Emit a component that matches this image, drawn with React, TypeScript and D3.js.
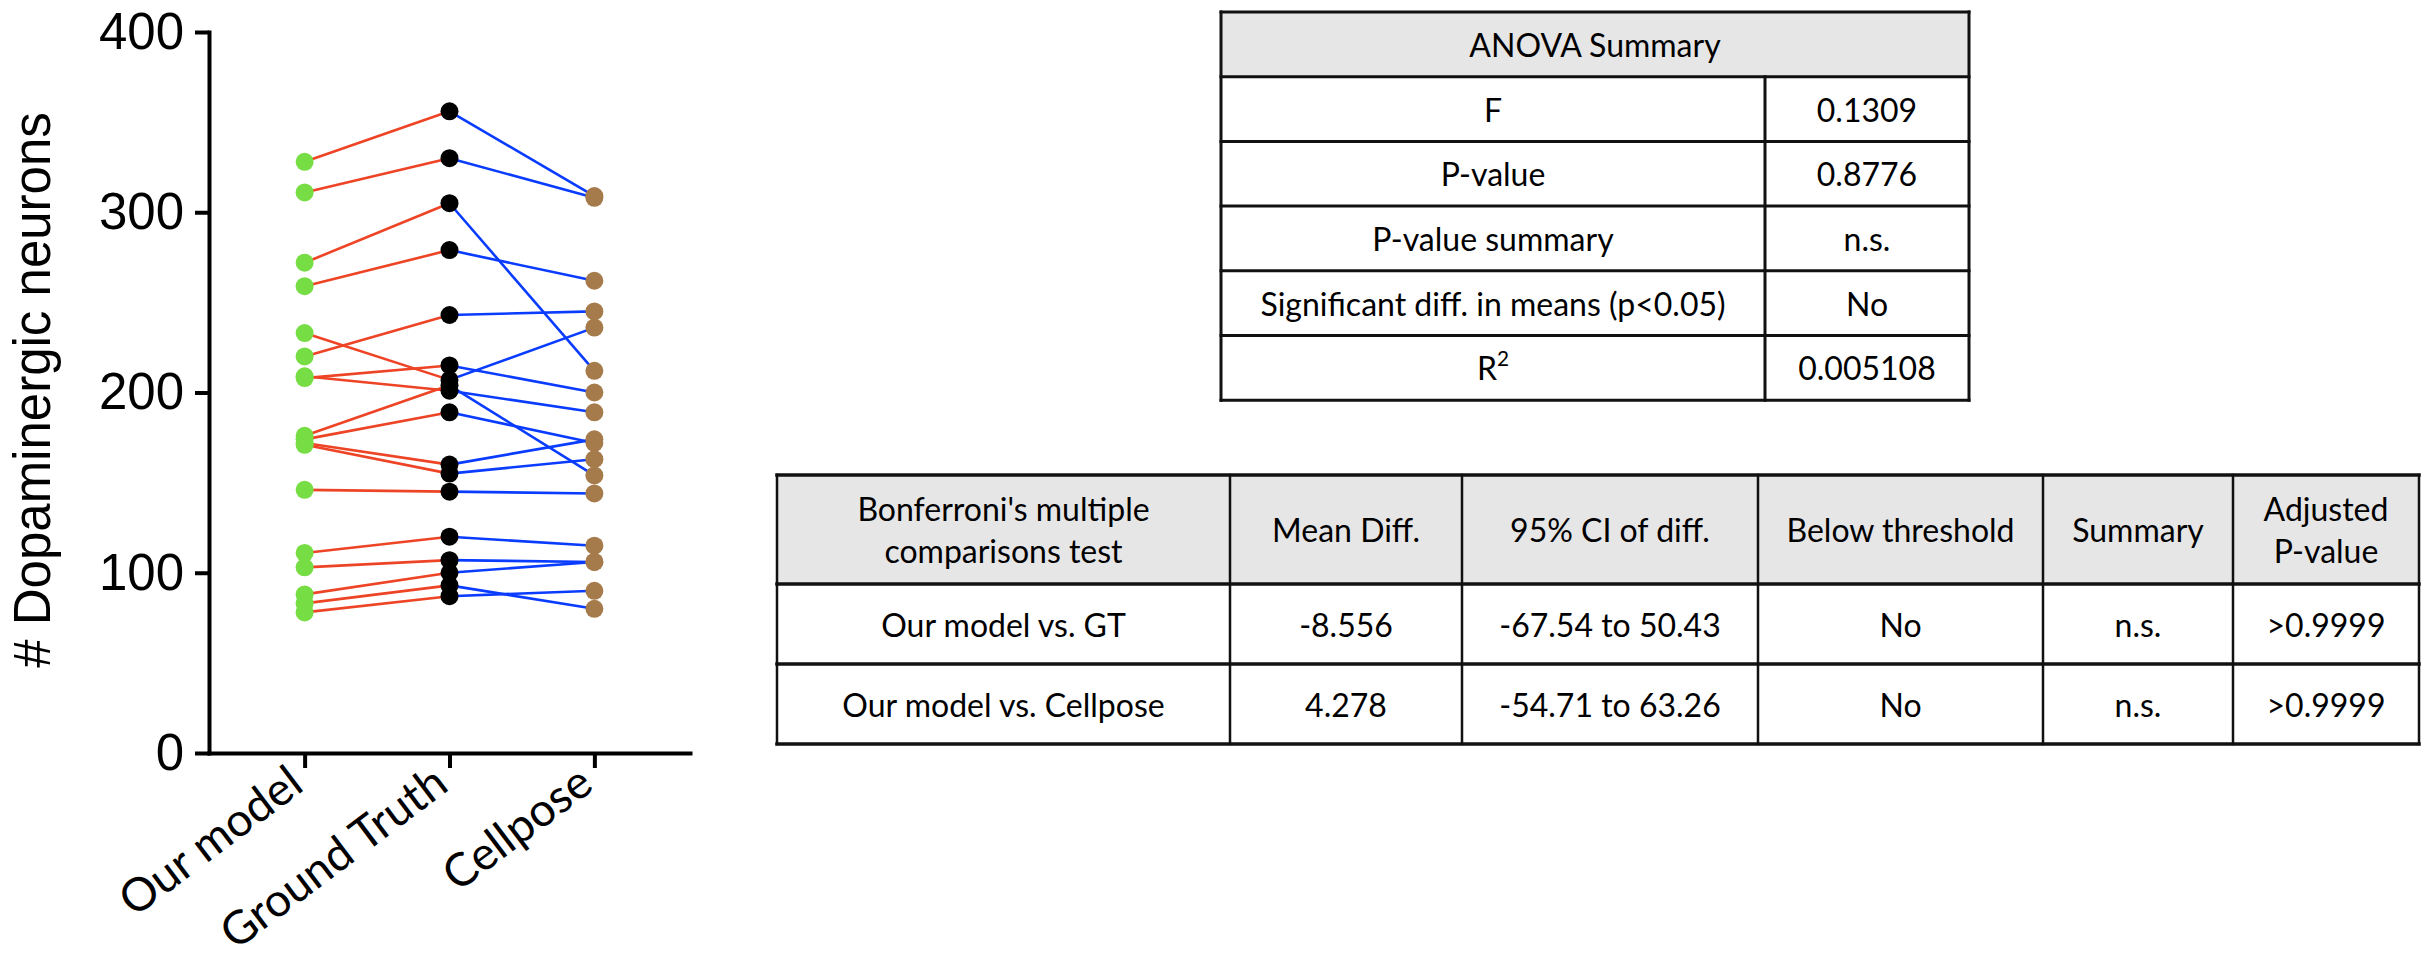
import { useEffect, useRef } from 'react';
import * as d3 from 'd3';

const W = 2422;
const H = 962;

// paired counts per image (18 images)
const CATEGORIES = ['Our model', 'Ground Truth', 'Cellpose'];
const OUR_MODEL = [328, 311, 272, 259, 220, 233, 208, 209, 176, 174, 172, 171, 146, 111, 103, 88, 83, 78];
const GROUND_TRUTH = [356, 330, 305, 279, 243, 207, 215, 201, 204, 189, 160, 155, 145, 120, 107, 100, 93, 87];
const CELLPOSE = [309, 308, 212, 262, 245, 236, 200, 189, 154, 172, 174, 163, 144, 115, 106, 106, 80, 90];
const Y_TICKS = [0, 100, 200, 300, 400];

const ANOVA_TITLE = 'ANOVA Summary';
const ANOVA_LABELS = ['F', 'P-value', 'P-value summary', 'Significant diff. in means (p<0.05)', 'R2'];
const ANOVA_VALUES = ['0.1309', '0.8776', 'n.s.', 'No', '0.005108'];

const BONF_HEADERS = [
  ["Bonferroni's multiple", 'comparisons test'],
  ['Mean Diff.'],
  ['95% CI of diff.'],
  ['Below threshold'],
  ['Summary'],
  ['Adjusted', 'P-value'],
];
const BONF_ROWS = [
  ['Our model vs. GT', '-8.556', '-67.54 to 50.43', 'No', 'n.s.', '>0.9999'],
  ['Our model vs. Cellpose', '4.278', '-54.71 to 63.26', 'No', 'n.s.', '>0.9999'],
];

const COLORS = { ours: '#77dd44', gt: '#000000', cellpose: '#a67b4b', red: '#ee4426', blue: '#0a3cff' };
const AXIS_FONT = '"Liberation Sans", Arial, sans-serif';
const TABLE_FONT = 'Lato, "Open Sans", sans-serif';
const HEADER_FILL = '#e7e6e6';

const PLOT = { left: 209, right: 690, top: 32, bottom: 753 };

// table geometry
const T1 = { x0: 1221, x1: 1969, xDiv: 1765, y0: 12, rowH: 64.7 };
const T2_XS = [777, 1230, 1462, 1758, 2043, 2233, 2419];
const T2_YS = [475, 584, 664, 744];

function AnovaTable() {
  const rows = ANOVA_LABELS.length + 1;
  const yEnd = T1.y0 + rows * T1.rowH;
  const fs = 32;
  return (
    <g fontFamily={TABLE_FONT} fontSize={fs} fill="#000">
      <rect x={T1.x0} y={T1.y0} width={T1.x1 - T1.x0} height={T1.rowH} fill={HEADER_FILL} />
      <text x={(T1.x0 + T1.x1) / 2} y={T1.y0 + T1.rowH / 2} textAnchor="middle" dominantBaseline="central">
        {ANOVA_TITLE}
      </text>
      {ANOVA_LABELS.map((lab, i) => {
        const cy = T1.y0 + (i + 1.5) * T1.rowH;
        return (
          <g key={lab}>
            <text x={(T1.x0 + T1.xDiv) / 2} y={cy} textAnchor="middle" dominantBaseline="central">
              {lab === 'R2' ? (
                <>
                  R<tspan fontSize={fs * 0.65} dy={-11}>2</tspan>
                </>
              ) : (
                lab
              )}
            </text>
            <text x={(T1.xDiv + T1.x1) / 2} y={cy} textAnchor="middle" dominantBaseline="central">
              {ANOVA_VALUES[i]}
            </text>
          </g>
        );
      })}
      <g stroke="#111" strokeWidth={3} strokeLinecap="square">
        {d3.range(rows + 1).map(k => (
          <line key={k} x1={T1.x0} x2={T1.x1} y1={T1.y0 + k * T1.rowH} y2={T1.y0 + k * T1.rowH} />
        ))}
        <line x1={T1.x0} x2={T1.x0} y1={T1.y0} y2={yEnd} />
        <line x1={T1.x1} x2={T1.x1} y1={T1.y0} y2={yEnd} />
        <line x1={T1.xDiv} x2={T1.xDiv} y1={T1.y0 + T1.rowH} y2={yEnd} />
      </g>
    </g>
  );
}

function BonferroniTable() {
  const lineGap = 42;
  return (
    <g fontFamily={TABLE_FONT} fontSize={32} fill="#000">
      <rect x={T2_XS[0]} y={T2_YS[0]} width={T2_XS[T2_XS.length - 1] - T2_XS[0]} height={T2_YS[1] - T2_YS[0]} fill={HEADER_FILL} />
      {BONF_HEADERS.map((lines, c) => {
        const cx = (T2_XS[c] + T2_XS[c + 1]) / 2;
        const cy = (T2_YS[0] + T2_YS[1]) / 2;
        return lines.map((ln, j) => (
          <text key={`${c}-${j}`} x={cx} y={cy + (j - (lines.length - 1) / 2) * lineGap}
            textAnchor="middle" dominantBaseline="central">{ln}</text>
        ));
      })}
      {BONF_ROWS.map((row, r) => {
        const cy = (T2_YS[r + 1] + T2_YS[r + 2]) / 2;
        return row.map((cell, c) => (
          <text key={`${r}-${c}`} x={(T2_XS[c] + T2_XS[c + 1]) / 2} y={cy}
            textAnchor="middle" dominantBaseline="central">{cell}</text>
        ));
      })}
      <g stroke="#111" strokeLinecap="square">
        {T2_YS.map(yy => (
          <line key={yy} x1={T2_XS[0]} x2={T2_XS[T2_XS.length - 1]} y1={yy} y2={yy} strokeWidth={3.5} />
        ))}
        {T2_XS.map(xx => (
          <line key={xx} x1={xx} x2={xx} y1={T2_YS[0]} y2={T2_YS[T2_YS.length - 1]} strokeWidth={2.5} />
        ))}
      </g>
    </g>
  );
}

export default function App() {
  const plotRef = useRef<SVGGElement>(null);

  useEffect(() => {
    document.body.style.margin = '0';
    const g = d3.select(plotRef.current);
    g.selectAll('*').remove();

    const x = d3.scalePoint<string>().domain(CATEGORIES).range([PLOT.left, PLOT.right]).padding(0.66);
    const y = d3.scaleLinear().domain([0, 400]).range([PLOT.bottom, PLOT.top]);

    const series = [OUR_MODEL, GROUND_TRUTH, CELLPOSE];
    const dotColors = [COLORS.ours, COLORS.gt, COLORS.cellpose];

    // connecting lines: red ours->GT, blue GT->Cellpose
    const segs: { x1: number; y1: number; x2: number; y2: number; c: string }[] = [];
    OUR_MODEL.forEach((_, i) => {
      segs.push({ x1: x(CATEGORIES[0])!, y1: y(OUR_MODEL[i]), x2: x(CATEGORIES[1])!, y2: y(GROUND_TRUTH[i]), c: COLORS.red });
      segs.push({ x1: x(CATEGORIES[1])!, y1: y(GROUND_TRUTH[i]), x2: x(CATEGORIES[2])!, y2: y(CELLPOSE[i]), c: COLORS.blue });
    });
    g.append('g').selectAll('line').data(segs).join('line')
      .attr('x1', d => d.x1).attr('y1', d => d.y1)
      .attr('x2', d => d.x2).attr('y2', d => d.y2)
      .attr('stroke', d => d.c).attr('stroke-width', 2.6);

    series.forEach((vals, k) => {
      g.append('g').selectAll('circle').data(vals).join('circle')
        .attr('cx', x(CATEGORIES[k])!)
        .attr('cy', d => y(d))
        .attr('r', 9)
        .attr('fill', dotColors[k]);
    });

    // Y axis
    const yAxis = g.append('g')
      .attr('transform', `translate(${PLOT.left},0)`)
      .call(d3.axisLeft(y).tickValues(Y_TICKS).tickSize(14).tickSizeOuter(0).tickPadding(11));
    yAxis.attr('font-size', 51).attr('font-family', AXIS_FONT);
    yAxis.select('.domain').attr('stroke-width', 4).attr('stroke-linecap', 'square');
    yAxis.selectAll('.tick line').attr('stroke-width', 4);
    yAxis.selectAll('.tick text').attr('fill', '#000');

    // X axis
    const xAxis = g.append('g')
      .attr('transform', `translate(0,${PLOT.bottom})`)
      .call(d3.axisBottom(x).tickSize(15).tickSizeOuter(0).tickFormat(() => ''));
    xAxis.select('.domain').attr('stroke-width', 4).attr('stroke-linecap', 'square');
    xAxis.selectAll('.tick line').attr('stroke-width', 4);

    // rotated category labels
    g.append('g').selectAll('text').data(CATEGORIES).join('text')
      .attr('transform', d => `translate(${x(d)! + 1},${PLOT.bottom + 36}) rotate(-37)`)
      .attr('text-anchor', 'end')
      .attr('font-family', TABLE_FONT)
      .attr('font-size', 46)
      .attr('fill', '#000')
      .text(d => d);

    // Y axis title
    g.append('text')
      .attr('transform', `translate(50,390) rotate(-90)`)
      .attr('text-anchor', 'middle')
      .attr('font-family', AXIS_FONT)
      .attr('font-size', 51)
      .attr('fill', '#000')
      .text('# Dopaminergic neurons');
  }, []);

  return (
    <svg width={W} height={H} style={{ display: 'block', background: '#fff' }}>
      <g ref={plotRef} />
      <AnovaTable />
      <BonferroniTable />
    </svg>
  );
}
